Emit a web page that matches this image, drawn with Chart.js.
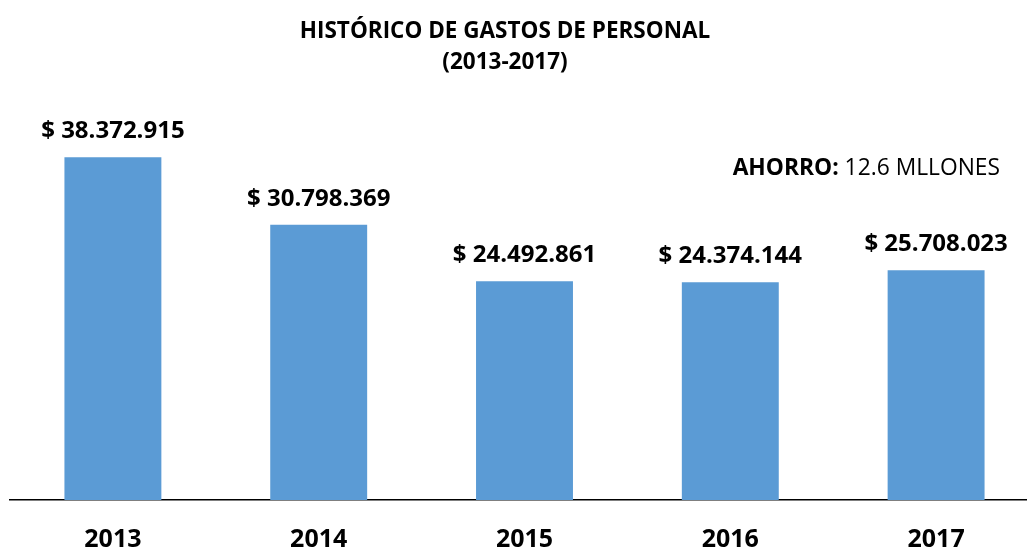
<!DOCTYPE html>
<html>
<head>
<meta charset="utf-8">
<script src="https://cdn.jsdelivr.net/npm/chart.js@4"></script>
<style>
  body { margin: 0; overflow: hidden; background: #fff; }
  #wrap { width: 1040px; height: 549px; }
</style>
</head>
<body>
<div id="wrap"><canvas id="gastos" width="1040" height="549"></canvas></div>
<script>
const years = ['2013', '2014', '2015', '2016', '2017'];
const gastos = [38372915, 30798369, 24492861, 24374144, 25708023];
const titleLines = ['HISTÓRICO DE GASTOS DE PERSONAL', '(2013-2017)'];
const ahorroLabel = 'AHORRO:';
const ahorroText = ' 12.6 MLLONES';

const FONT = '"Open Sans", Lato, sans-serif';

function pesos(v) {
  return '$ ' + String(v).replace(/\B(?=(\d{3})+(?!\d))/g, '.');
}

// title, values above bars and the savings note
const extras = {
  id: 'extras',
  afterDatasetsDraw(chart) {
    const ctx = chart.ctx;
    ctx.save();
    ctx.fillStyle = '#000';
    ctx.textAlign = 'center';
    ctx.textBaseline = 'middle';

    ctx.font = 'bold 22.5px ' + FONT;
    ctx.fillText(titleLines[0], 505, 32);
    ctx.fillText(titleLines[1], 505, 63);

    ctx.font = 'bold 24px ' + FONT;
    chart.getDatasetMeta(0).data.forEach((bar, i) => {
      ctx.fillText(pesos(gastos[i]), bar.x, bar.y - 26);
    });

    ctx.textAlign = 'left';
    ctx.font = '22.8px ' + FONT;
    const wRest = ctx.measureText(ahorroText).width;
    ctx.font = 'bold 22.8px ' + FONT;
    const wLab = ctx.measureText(ahorroLabel).width;
    const x0 = 1000 - wRest - wLab;
    ctx.fillText(ahorroLabel, x0, 169);
    ctx.font = '22.8px ' + FONT;
    ctx.fillText(ahorroText, x0 + wLab, 169);
    ctx.restore();
  }
};

new Chart(document.getElementById('gastos'), {
  type: 'bar',
  data: {
    labels: years,
    datasets: [{
      data: gastos,
      backgroundColor: '#5B9BD5',
      barPercentage: 0.471,
      categoryPercentage: 1
    }]
  },
  options: {
    responsive: false,
    animation: false,
    layout: { padding: { top: 98, left: 10, right: 1, bottom: 0 } },
    plugins: { legend: { display: false }, tooltip: { enabled: false } },
    scales: {
      x: {
        grid: { display: false, drawTicks: false },
        border: { display: true, color: '#000', width: 1.5 },
        ticks: { color: '#000', padding: 25, font: { family: FONT, size: 25, weight: 'bold' } },
        afterFit(scale) { scale.height = 49; }
      },
      y: {
        display: false,
        min: 0,
        max: 45000000
      }
    }
  },
  plugins: [extras]
});
</script>
</body>
</html>
